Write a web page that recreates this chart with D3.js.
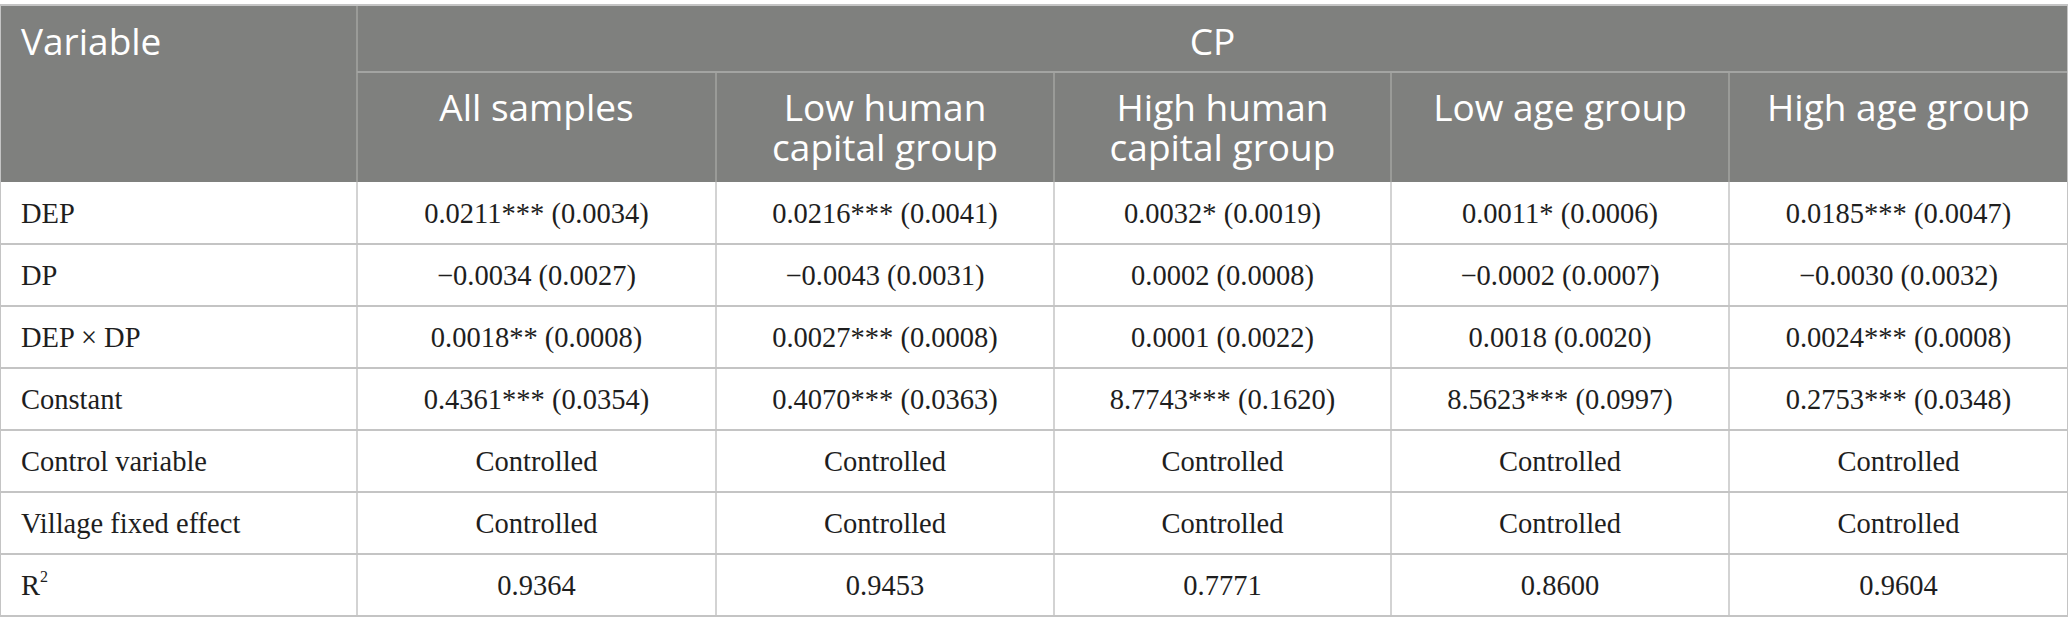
<!DOCTYPE html>
<html>
<head>
<meta charset="utf-8">
<script src="https://cdn.jsdelivr.net/npm/d3@7"></script>
<style>
  body { margin: 0; background: #fff; }
</style>
</head>
<body>
<div id="table"></div>
<script>
const width = 2068;
const height = 634;

// table content
const groupLabel = "CP";
const columns = [["All samples"], ["Low human", "capital group"], ["High human", "capital group"], ["Low age group"], ["High age group"]];
const rowLabels = ["DEP", "DP", "DEP × DP", "Constant", "Control variable", "Village fixed effect", "R2"];
const allSamples = ["0.0211*** (0.0034)", "\u22120.0034 (0.0027)", "0.0018** (0.0008)", "0.4361*** (0.0354)", "Controlled", "Controlled", "0.9364"];
const lowHuman = ["0.0216*** (0.0041)", "\u22120.0043 (0.0031)", "0.0027*** (0.0008)", "0.4070*** (0.0363)", "Controlled", "Controlled", "0.9453"];
const highHuman = ["0.0032* (0.0019)", "0.0002 (0.0008)", "0.0001 (0.0022)", "8.7743*** (0.1620)", "Controlled", "Controlled", "0.7771"];
const lowAge = ["0.0011* (0.0006)", "\u22120.0002 (0.0007)", "0.0018 (0.0020)", "8.5623*** (0.0997)", "Controlled", "Controlled", "0.8600"];
const highAge = ["0.0185*** (0.0047)", "\u22120.0030 (0.0032)", "0.0024*** (0.0008)", "0.2753*** (0.0348)", "Controlled", "Controlled", "0.9604"];
const series = [allSamples, lowHuman, highHuman, lowAge, highAge];

// layout
const colWidths = [357, 359, 338, 337, 338, 339];
const tTop = 5, head1 = 72, head2 = 182, tBottom = 616;
const headFill = "#7f807e";
const lineColor = "#c4c4c4";
const headLine = "#a3a4a2";
const headSize = 37, bodySize = 28.5;

const edges = d3.cumsum([0].concat(colWidths));
const x = i => edges[i];
const y = d3.scaleBand().domain(d3.range(rowLabels.length)).range([head2, tBottom]);

const svg = d3.select("#table")
    .append("svg")
    .attr("width", width)
    .attr("height", height);

// header background
svg.append("rect")
    .attr("x", 0).attr("y", tTop)
    .attr("width", width).attr("height", head2 - tTop)
    .attr("fill", headFill);

const headFont = "'Open Sans', 'Noto Sans', sans-serif";
const bodyFont = "'Liberation Serif', 'DejaVu Serif', serif";

svg.append("text")
    .attr("x", 21).attr("y", 42)
    .attr("dy", "0.35em")
    .attr("font-family", headFont).attr("font-size", headSize)
    .attr("fill", "#fff")
    .text("Variable");

svg.append("text")
    .attr("x", (x(1) + width) / 2).attr("y", 42)
    .attr("dy", "0.35em")
    .attr("text-anchor", "middle")
    .attr("font-family", headFont).attr("font-size", headSize)
    .attr("fill", "#fff")
    .text(groupLabel);

columns.forEach((lines, i) => {
    const t = svg.append("text")
        .attr("text-anchor", "middle")
        .attr("font-family", headFont).attr("font-size", headSize)
        .attr("fill", "#fff");
    lines.forEach((ln, k) => {
        t.append("tspan")
            .attr("x", (x(i + 1) + x(i + 2)) / 2)
            .attr("y", 108 + k * 40)
            .attr("dy", "0.35em")
            .text(ln);
    });
});

// header lines
svg.append("line")
    .attr("x1", x(1)).attr("x2", width)
    .attr("y1", head1).attr("y2", head1)
    .attr("stroke", headLine).attr("stroke-width", 2);

svg.append("line")
    .attr("x1", x(1)).attr("x2", x(1))
    .attr("y1", tTop).attr("y2", head2)
    .attr("stroke", headLine).attr("stroke-width", 1.5);

d3.range(2, colWidths.length).forEach(i => {
    svg.append("line")
        .attr("x1", x(i)).attr("x2", x(i))
        .attr("y1", head1).attr("y2", head2)
        .attr("stroke", headLine).attr("stroke-width", 1.5);
});

// body grid
svg.append("line")
    .attr("x1", 0).attr("x2", width)
    .attr("y1", tTop).attr("y2", tTop)
    .attr("stroke", lineColor).attr("stroke-width", 2);

y.domain().forEach(r => {
    svg.append("line")
        .attr("x1", 0).attr("x2", width)
        .attr("y1", y(r) + y.bandwidth()).attr("y2", y(r) + y.bandwidth())
        .attr("stroke", lineColor).attr("stroke-width", 2);
});

d3.range(1, colWidths.length).forEach(i => {
    svg.append("line")
        .attr("x1", x(i)).attr("x2", x(i))
        .attr("y1", head2).attr("y2", tBottom)
        .attr("stroke", lineColor).attr("stroke-width", 1.5);
});

[0.5, width - 0.5].forEach(px => {
    svg.append("line")
        .attr("x1", px).attr("x2", px)
        .attr("y1", tTop).attr("y2", tBottom)
        .attr("stroke", lineColor).attr("stroke-width", 1);
});

// row labels
rowLabels.forEach((lab, r) => {
    const t = svg.append("text")
        .attr("x", 21).attr("y", y(r) + y.bandwidth() / 2)
        .attr("dy", "0.35em")
        .attr("font-family", bodyFont).attr("font-size", bodySize)
        .attr("fill", "#1e1e1e");
    if (lab === "R2") {
        t.append("tspan").text("R");
        t.append("tspan").attr("font-size", 16).attr("dy", "-0.8em").text("2");
    } else {
        t.text(lab);
    }
});

// cell values
series.forEach((vals, c) => {
    vals.forEach((v, r) => {
        svg.append("text")
            .attr("x", (x(c + 1) + x(c + 2)) / 2)
            .attr("y", y(r) + y.bandwidth() / 2)
            .attr("dy", "0.35em")
            .attr("text-anchor", "middle")
            .attr("font-family", bodyFont).attr("font-size", bodySize)
            .attr("fill", "#1e1e1e")
            .text(v);
    });
});
</script>
</body>
</html>
